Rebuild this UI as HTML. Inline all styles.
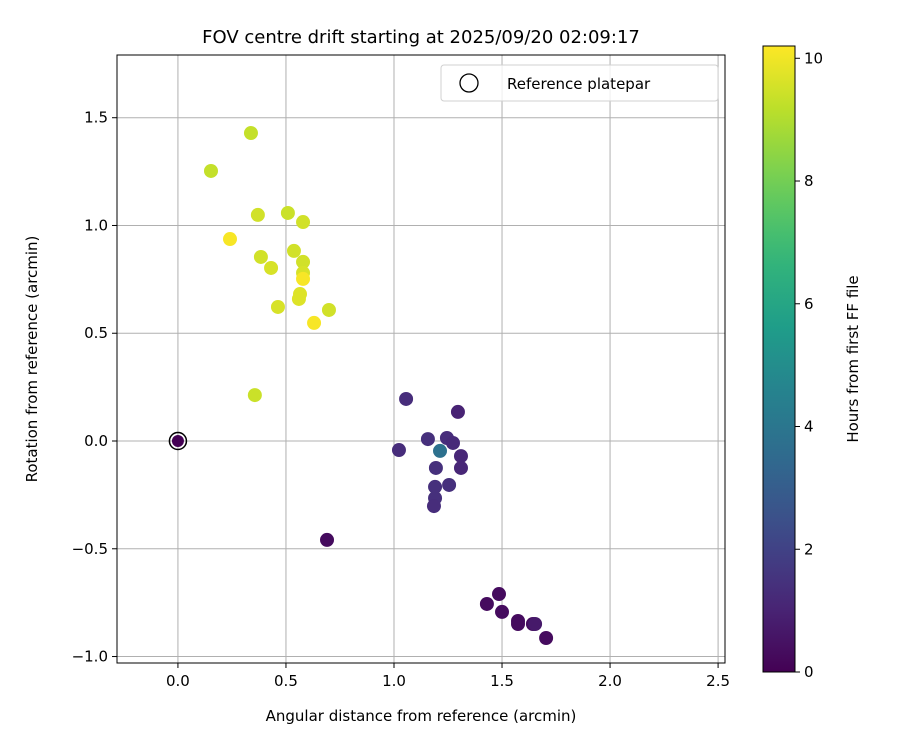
<!DOCTYPE html>
<html><head><meta charset="utf-8"><style>
body{margin:0;background:#fff;font-family:"Liberation Sans","DejaVu Sans",sans-serif}
svg text{font-family:"DejaVu Sans","Liberation Sans",sans-serif}
</style></head><body>
<svg id="chart" width="900" height="750" xmlns="http://www.w3.org/2000/svg"></svg>
<script>
const xVals=[0.338,0.153,0.370,0.509,0.579,0.241,0.384,0.537,0.431,0.579,0.579,0.579,0.565,0.560,0.463,0.699,0.630,0.356,
1.056,1.296,1.157,1.245,1.273,1.023,1.310,1.194,1.310,1.190,1.255,1.190,1.185,1.213,
0.690,1.486,1.430,1.500,1.574,1.574,1.643,1.653,1.704];
const yVals=[1.429,1.253,1.049,1.058,1.016,0.937,0.854,0.882,0.803,0.831,0.780,0.752,0.682,0.659,0.622,0.608,0.548,0.213,
0.195,0.135,0.009,0.014,-0.009,-0.042,-0.070,-0.125,-0.125,-0.213,-0.204,-0.265,-0.302,-0.046,
-0.459,-0.710,-0.756,-0.793,-0.835,-0.849,-0.849,-0.849,-0.914];
const hours=[9.3,9.3,9.5,9.4,9.5,10.1,9.5,9.5,9.6,9.5,9.6,10.1,9.7,9.7,9.6,9.5,10.1,9.4,
1.3,1.0,1.4,1.3,1.2,1.3,1.1,1.4,1.1,1.4,1.4,1.4,1.3,3.8,
0.3,0.3,0.3,0.3,0.3,0.3,0.3,0.7,0.3];
const xTicks=[0,0.5,1,1.5,2,2.5];
const yTicks=[-1,-0.5,0,0.5,1,1.5];
const cTicks=[0,2,4,6,8,10];

const svg=document.getElementById('chart');const NS='http://www.w3.org/2000/svg';
function mk(t,a,p){const e=document.createElementNS(NS,t);for(const k in a)e.setAttribute(k,a[k]);(p||svg).appendChild(e);return e;}
const L=117,R=725,T=55,B=663,xmin=-0.282,xmax=2.532,ymin=-1.030,ymax=1.791;
const sx=v=>L+(v-xmin)/(xmax-xmin)*(R-L);
const sy=v=>B-(v-ymin)/(ymax-ymin)*(B-T);
const stops=[[68,1,84],[72,40,120],[62,74,137],[49,104,142],[38,130,142],[31,158,137],[53,183,121],[110,206,88],[181,222,43],[253,231,37]];
function viridis(t){t=Math.max(0,Math.min(1,t));const f=t*(stops.length-1),i=Math.min(stops.length-2,Math.floor(f)),r=f-i;
const c=stops[i].map((v,k)=>Math.round(v+(stops[i+1][k]-v)*r));return `rgb(${c})`;}
const cmax=10.2;
const grid=mk('g',{});
xTicks.forEach(v=>{mk('line',{x1:sx(v),x2:sx(v),y1:T,y2:B,stroke:'#b0b0b0','stroke-width':1},grid);
mk('line',{x1:sx(v),x2:sx(v),y1:B,y2:B+5,stroke:'#000'});
const t=mk('text',{x:sx(v),y:B+23,'text-anchor':'middle','font-size':15});t.textContent=v.toFixed(1);
});
yTicks.forEach(v=>{mk('line',{y1:sy(v),y2:sy(v),x1:L,x2:R,stroke:'#b0b0b0','stroke-width':1},grid);
mk('line',{y1:sy(v),y2:sy(v),x1:L-5,x2:L,stroke:'#000'});
const t=mk('text',{x:L-9,y:sy(v)+5,'text-anchor':'end','font-size':15});t.textContent=v.toFixed(1).replace('-','−');
});
const pts=mk('g',{});
xVals.forEach((x,i)=>{const c=mk('circle',{cx:sx(x),cy:sy(yVals[i]),r:7,fill:viridis(hours[i]/cmax)},pts);
});
const ref=mk('circle',{cx:sx(0),cy:sy(0),r:8.5,fill:'none',stroke:'#000','stroke-width':1.5});

const refDot=mk('circle',{cx:sx(0),cy:sy(0),r:6,fill:viridis(0)});

mk('rect',{x:L,y:T,width:R-L,height:B-T,fill:'none',stroke:'#000','stroke-width':1});
const lg=mk('g',{});
mk('rect',{x:441,y:65,width:277,height:36,rx:3,fill:'#fff','fill-opacity':0.8,stroke:'#d0d0d0'},lg);
mk('circle',{cx:469,cy:83,r:9,fill:'none',stroke:'#000','stroke-width':1.3},lg);
const lt=mk('text',{x:507,y:89,'font-size':15},lg);lt.textContent='Reference platepar';
let t=mk('text',{x:421,y:43,'text-anchor':'middle','font-size':18});t.textContent='FOV centre drift starting at 2025/09/20 02:09:17';

t=mk('text',{x:421,y:721,'text-anchor':'middle','font-size':15});t.textContent='Angular distance from reference (arcmin)';

t=mk('text',{x:0,y:0,'text-anchor':'middle','font-size':15,transform:'translate(37,359) rotate(-90)'});t.textContent='Rotation from reference (arcmin)';

const cb=mk('g',{});
const CT=46,CB=672,CL=763,CR=795;
const defs=mk('defs',{});const gr=mk('linearGradient',{id:'vg',x1:0,y1:1,x2:0,y2:0},defs);
for(let i=0;i<=20;i++)mk('stop',{offset:i/20,'stop-color':viridis(i/20)},gr);
mk('rect',{x:CL,y:CT,width:CR-CL,height:CB-CT,fill:'url(#vg)',stroke:'#000','stroke-width':1},cb);
const cy=v=>CB-v/cmax*(CB-CT);
cTicks.forEach(v=>{mk('line',{x1:CR,x2:CR+5,y1:cy(v),y2:cy(v),stroke:'#000'},cb);
const tt=mk('text',{x:CR+9,y:cy(v)+5,'font-size':15},cb);tt.textContent=v;
});
t=mk('text',{x:0,y:0,'text-anchor':'middle','font-size':15,transform:'translate(858,359) rotate(-90)'});t.textContent='Hours from first FF file';

</script>
</body></html>
